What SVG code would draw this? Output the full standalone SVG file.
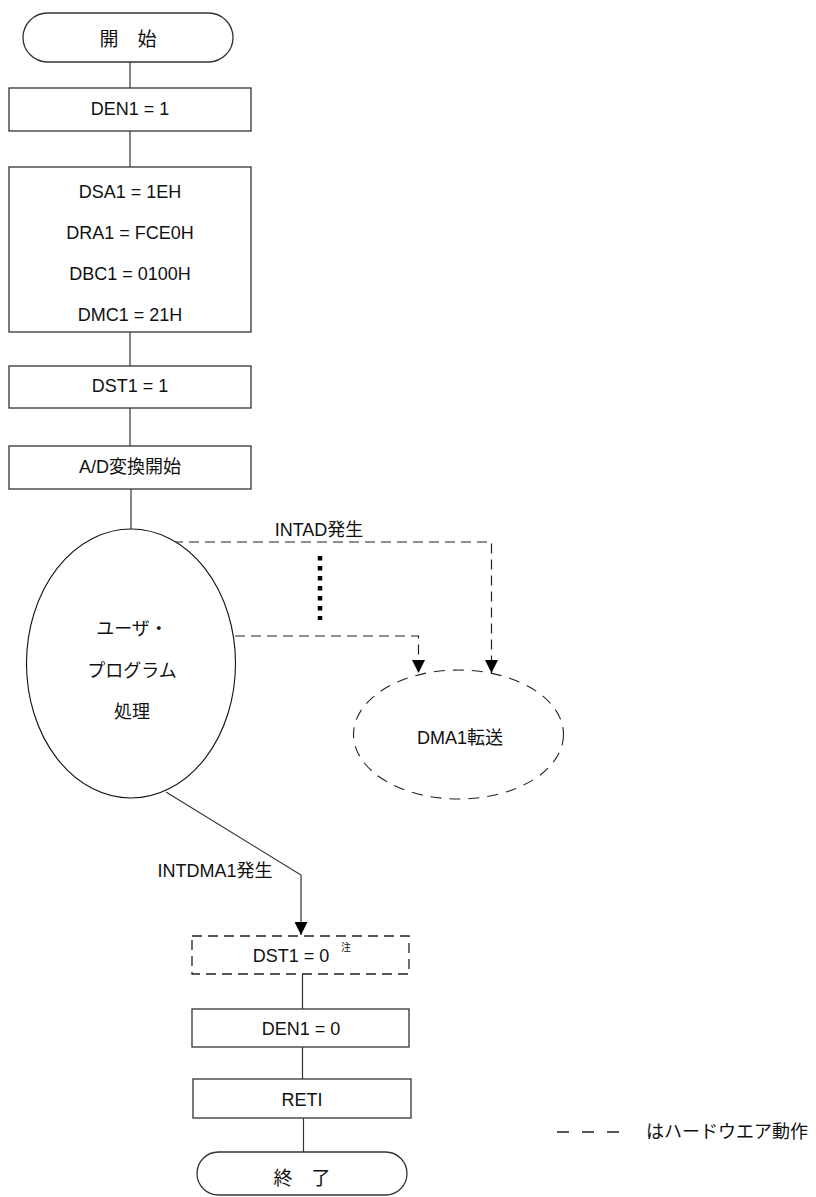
<svg xmlns="http://www.w3.org/2000/svg" width="816" height="1197" viewBox="0 0 816 1197">
<style>
.box{fill:#fff;stroke:#333;stroke-width:1.3}
.dbox{fill:#fff;stroke:#222;stroke-width:1.3;stroke-dasharray:10 6}
.ell{fill:#fff;stroke:#111;stroke-width:1.1}
.dell{fill:#fff;stroke:#222;stroke-width:1.1;stroke-dasharray:11 8}
.ln{fill:none;stroke:#333;stroke-width:1.2}
.dln{fill:none;stroke:#222;stroke-width:1.2;stroke-dasharray:10 6}
text{font-family:"Liberation Sans","Noto Sans CJK JP",sans-serif;font-size:18px;fill:#111;text-anchor:middle}
.sm{font-size:10px;text-anchor:start}
.lg{text-anchor:start}
</style>
<defs>
<marker id="ah" markerUnits="userSpaceOnUse" markerWidth="13" markerHeight="13" viewBox="0 0 13 13" refX="13" refY="6.5" orient="auto">
<path d="M0,0 L13,6.5 L0,13 z" fill="#000"/>
</marker>
</defs>
<g id="connectors">
<line class="ln" x1="130" y1="62" x2="130" y2="88"/>
<line class="ln" x1="130" y1="131" x2="130" y2="167"/>
<line class="ln" x1="130" y1="332" x2="130" y2="366"/>
<line class="ln" x1="130" y1="408" x2="130" y2="446"/>
<line class="ln" x1="131" y1="489" x2="131" y2="529"/>
<polyline class="dln" points="173,542 491.5,542 491.5,673" marker-end="url(#ah)"/>
<polyline class="dln" points="235,636 418.5,636 418.5,673" marker-end="url(#ah)"/>
<line x1="320" y1="556" x2="320" y2="620" stroke="#000" stroke-width="4.5" stroke-dasharray="4.5 5.5"/>
<polyline class="ln" points="166,792 301,875 301,935" marker-end="url(#ah)"/>
<line class="ln" x1="302.5" y1="974" x2="302.5" y2="1009"/>
<line class="ln" x1="302.5" y1="1047" x2="302.5" y2="1079"/>
<line class="ln" x1="303.5" y1="1118" x2="303.5" y2="1152"/>
<text x="319" y="536">INTAD発生</text>
<text x="215" y="877">INTDMA1発生</text>
</g>
<g id="start">
<rect class="box" x="23" y="13" width="210" height="49" rx="24.5"/>
<text x="128" y="46" style="font-size:19px">開　始</text>
</g>
<g id="den1_1">
<rect class="box" x="9" y="88" width="242" height="43"/>
<text x="130" y="115">DEN1 = 1</text>
</g>
<g id="init">
<rect class="box" x="9" y="167" width="242" height="165"/>
<text x="130" y="198">DSA1 = 1EH</text>
<text x="130" y="239">DRA1 = FCE0H</text>
<text x="130" y="280">DBC1 = 0100H</text>
<text x="130" y="321">DMC1 = 21H</text>
</g>
<g id="dst1_1">
<rect class="box" x="9" y="366" width="242" height="42"/>
<text x="130" y="392">DST1 = 1</text>
</g>
<g id="adstart">
<rect class="box" x="9" y="446" width="242" height="43"/>
<text x="130" y="473">A/D変換開始</text>
</g>
<g id="user">
<ellipse class="ell" cx="131" cy="663.5" rx="104.5" ry="134.5"/>
<text x="132" y="635">ユーザ・</text>
<text x="132" y="677">プログラム</text>
<text x="132" y="718">処理</text>
</g>
<g id="dma">
<ellipse class="dell" cx="458.5" cy="734.5" rx="105" ry="64.5"/>
<text x="460" y="744">DMA1転送</text>
</g>
<g id="dst1_0">
<rect class="dbox" x="192" y="936" width="217" height="38"/>
<text x="291" y="962">DST1 = 0</text>
<text class="sm" x="341" y="951">注</text>
</g>
<g id="den1_0">
<rect class="box" x="192" y="1009" width="217" height="38"/>
<text x="301" y="1035">DEN1 = 0</text>
</g>
<g id="reti">
<rect class="box" x="193" y="1079" width="218" height="39"/>
<text x="302" y="1106">RETI</text>
</g>
<g id="end">
<rect class="box" x="197" y="1152" width="210" height="43" rx="21.5"/>
<text x="302" y="1185" style="font-size:19px">終　了</text>
</g>
<g id="legend">
<line x1="557" y1="1132" x2="619" y2="1132" stroke="#222" stroke-width="1.3" stroke-dasharray="12 13"/>
<text class="lg" x="646" y="1138">はハードウエア動作</text>
</g>
</svg>
